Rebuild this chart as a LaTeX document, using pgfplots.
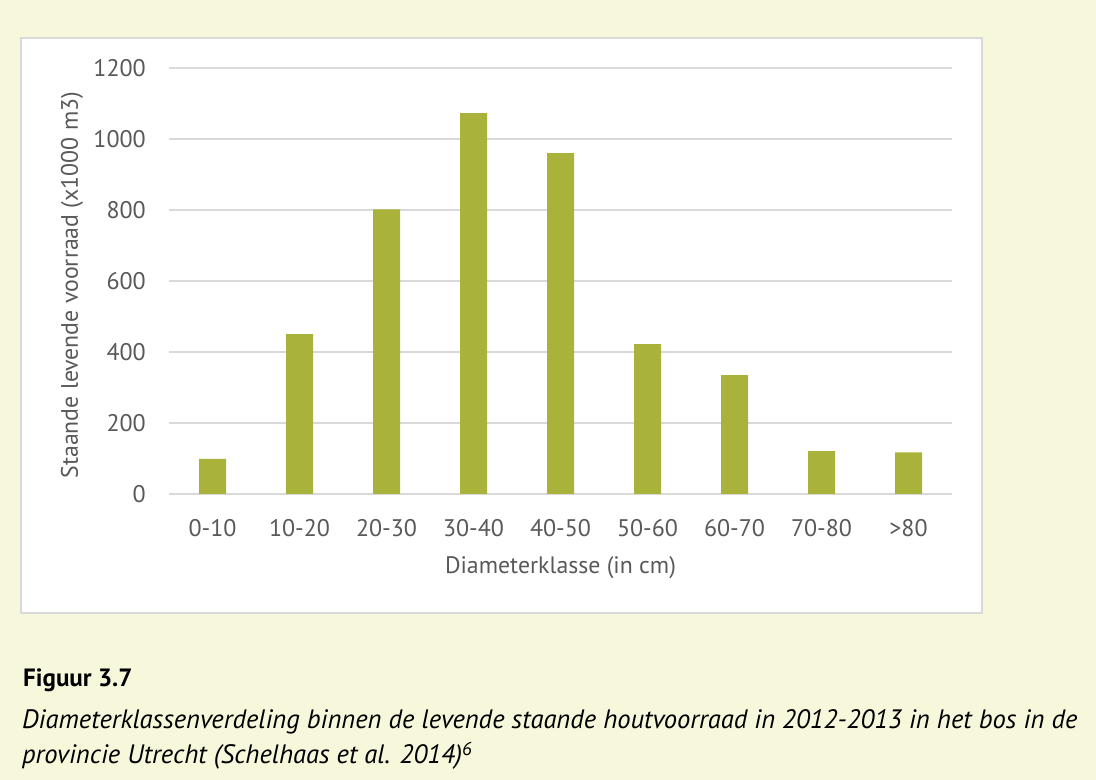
\documentclass[border=0pt]{standalone}
\usepackage{fontspec}
\setmainfont{PT Sans}
\usepackage{pgfplots}
\pgfplotsset{compat=1.18}
\definecolor{bg}{RGB}{247,247,220}
\definecolor{barc}{RGB}{169,178,58}
\definecolor{gridc}{RGB}{217,217,217}
\definecolor{txt}{RGB}{89,89,89}
\begin{document}
\begin{tikzpicture}[x=1bp,y=1bp]
\fill[bg] (0,0) rectangle (1096,780);
\filldraw[fill=white, draw=gridc, line width=1.5bp] (21,167) rectangle (982,742);
\begin{axis}[
  at={(169bp,286bp)}, anchor=south west,
  scale only axis, width=783bp, height=426bp,
  xmin=-0.5, xmax=8.5, ymin=0, ymax=1200,
  ytick={0,200,...,1200},
  xtick=data,
  xticklabels={0-10,10-20,20-30,30-40,40-50,50-60,60-70,70-80,>80},
  ymajorgrids, grid style={draw=gridc, line width=1.5bp},
  axis line style={draw=none},
  major tick length=0pt,
  tick style={draw=none},
  ybar, bar width=27bp,
  /pgf/number format/assume math mode=true,
  /pgf/number format/1000 sep={},
  tick label style={font=\fontsize{24bp}{28bp}\selectfont, text=txt},
  yticklabel style={anchor=east, inner sep=0pt, xshift=-23bp},
  xticklabel style={anchor=north, inner sep=0pt, yshift=-25bp},
  xlabel={Diameterklasse (in cm)},
  ylabel={Staande levende voorraad (x1000 m3)},
  label style={font=\fontsize{23.8bp}{28bp}\selectfont, text=txt},
  xlabel style={at={(axis description cs:0.5,0)}, anchor=center, yshift=-74bp},
  ylabel style={at={(axis description cs:-0.124,0.49)}, anchor=center},
]
\addplot[fill=barc, draw=none] coordinates {
  (0,99) (1,450) (2,802) (3,1073) (4,960) (5,422) (6,335) (7,121) (8,117)
};
\end{axis}
\node[anchor=base west, inner sep=0pt, font=\bfseries\fontsize{25bp}{29bp}\selectfont] at (23,93) {Figuur 3.7};
\node[anchor=base west, inner sep=0pt, font=\itshape\fontsize{26.6bp}{30bp}\selectfont] at (22,51) {Diameterklassenverdeling binnen de levende staande houtvoorraad in 2012-2013 in het bos in de};
\node[anchor=base west, inner sep=0pt, font=\itshape\fontsize{26.6bp}{30bp}\selectfont] at (22,16) {provincie Utrecht (Schelhaas et al. 2014)\textsuperscript{6}};
\end{tikzpicture}
\end{document}
